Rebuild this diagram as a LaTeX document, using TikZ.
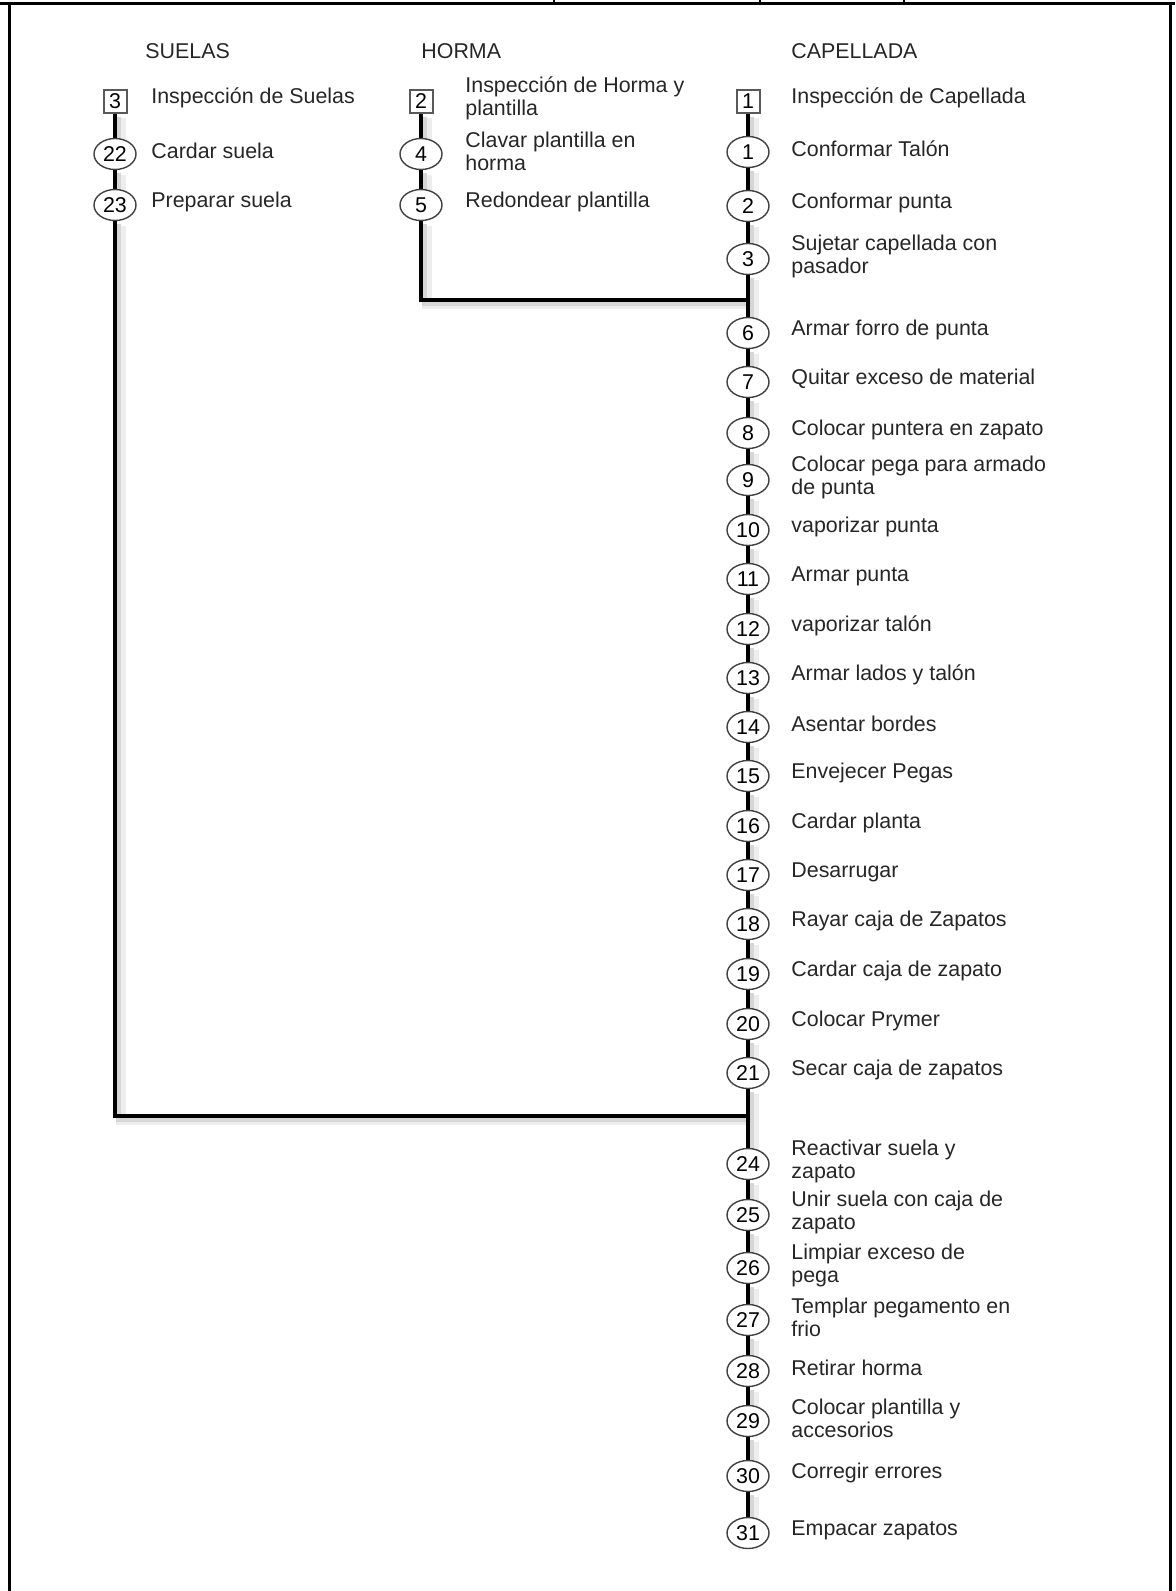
\documentclass[tikz,border=0pt]{standalone}
\usepackage{fontspec}
\setmainfont{Liberation Sans}
\usetikzlibrary{shapes.geometric,backgrounds}

\begin{document}
\begin{tikzpicture}[x=0.5pt,y=-0.5pt,
    font=\fontsize{10.7}{11.5}\selectfont,
    op/.style={ellipse,draw=black!75,line width=0.7pt,fill=white,
        minimum width=21pt,minimum height=15.5pt,inner sep=0pt},
    insp/.style={rectangle,draw=black!65,line width=1pt,fill=white,
        minimum size=11.5pt,inner sep=0pt},
    txt/.style={anchor=west,align=left,inner sep=0pt,text=black!85},
    flow/.style={line width=1.6pt,
        preaction={draw=black!7,line width=5pt,transform canvas={xshift=2.8pt,yshift=-2.2pt}},
        preaction={draw=black!16,line width=2.5pt,transform canvas={xshift=1.8pt,yshift=-1.5pt}}}]

    \useasboundingbox (0,0) rectangle (1175,1591);

    % frame of the page
    \draw[line width=1.5pt] (0,3) -- (1175,3);
    \draw[line width=1.5pt] (9,3) -- (9,1591);
    \draw[line width=1.5pt] (1170,3) -- (1170,1591);
    \foreach \x in {554,760,904}
        \draw[line width=0.8pt] (\x,0) -- (\x,3);

    % headers
    \node[txt] (hs) at (145,51) {SUELAS};
    \node[txt] (hh) at (421,51) {HORMA};
    \node[txt] (hc) at (791,51) {CAPELLADA};

    % suelas
    \node[insp] (i3) at (115,101) {3};
    \node[op] (o22) at (115,154) {22};
    \node[op] (o23) at (115,205) {23};
    \node[txt] (t-i3) at (151,98) {Inspección de Suelas};
    \node[txt] (t22) at (151,151) {Cardar suela};
    \node[txt] (t23) at (151,202) {Preparar suela};

    % horma
    \node[insp] (i2) at (421,101) {2};
    \node[op] (o4) at (421,154) {4};
    \node[op] (o5) at (421,205) {5};
    \node[txt] (t-i2) at (465,98) {Inspección de Horma y\\plantilla};
    \node[txt] (t4) at (465,151) {Clavar plantilla en\\horma};
    \node[txt] (t5) at (465,202) {Redondear plantilla};

    % capellada
    \node[insp] (i1) at (748,101) {1};
    \node[txt] (t-i1) at (791,98) {Inspección de Capellada};
    \foreach \n/\y/\t in {1/152/{Conformar Talón},
        2/206/{Conformar punta},
        3/259/{Sujetar capellada con\\pasador},
        6/333/{Armar forro de punta},
        7/382/{Quitar exceso de material},
        8/433/{Colocar puntera en zapato},
        9/480/{Colocar pega para armado\\de punta},
        10/530/{vaporizar punta},
        11/579/{Armar punta},
        12/629/{vaporizar talón},
        13/678/{Armar lados y talón},
        14/727/{Asentar bordes},
        15/776/{Envejecer Pegas},
        16/826/{Cardar planta},
        17/875/{Desarrugar},
        18/924/{Rayar caja de Zapatos},
        19/974/{Cardar caja de zapato},
        20/1024/{Colocar Prymer},
        21/1073/{Secar caja de zapatos},
        24/1164/{Reactivar suela y\\zapato},
        25/1215/{Unir suela con caja de\\zapato},
        26/1268/{Limpiar exceso de\\pega},
        27/1320/{Templar pegamento en\\frio},
        28/1371/{Retirar horma},
        29/1421/{Colocar plantilla y\\accesorios},
        30/1476/{Corregir errores},
        31/1533/{Empacar zapatos}}{
        \node[op] (o\n) at (748,\y) {\n};
        \node[txt] (t\n) at (791,\y-3) {\t};
    }

    \coordinate (jh) at (748,300);
    \coordinate (js) at (748,1116);

    \begin{scope}[on background layer]
        \draw[flow] (i3) -- (o22) -- (o23);
        \draw[flow] (o23) |- (js);
        \draw[flow] (i2) -- (o4) -- (o5);
        \draw[flow] (o5) |- (jh);
        \draw[flow] (i1) -- (o1) -- (o2) -- (o3) -- (o6) -- (o7) -- (o8) -- (o9)
            -- (o10) -- (o11) -- (o12) -- (o13) -- (o14) -- (o15) -- (o16) -- (o17)
            -- (o18) -- (o19) -- (o20) -- (o21) -- (o24) -- (o25) -- (o26) -- (o27)
            -- (o28) -- (o29) -- (o30) -- (o31);
    \end{scope}
\end{tikzpicture}
\end{document}
